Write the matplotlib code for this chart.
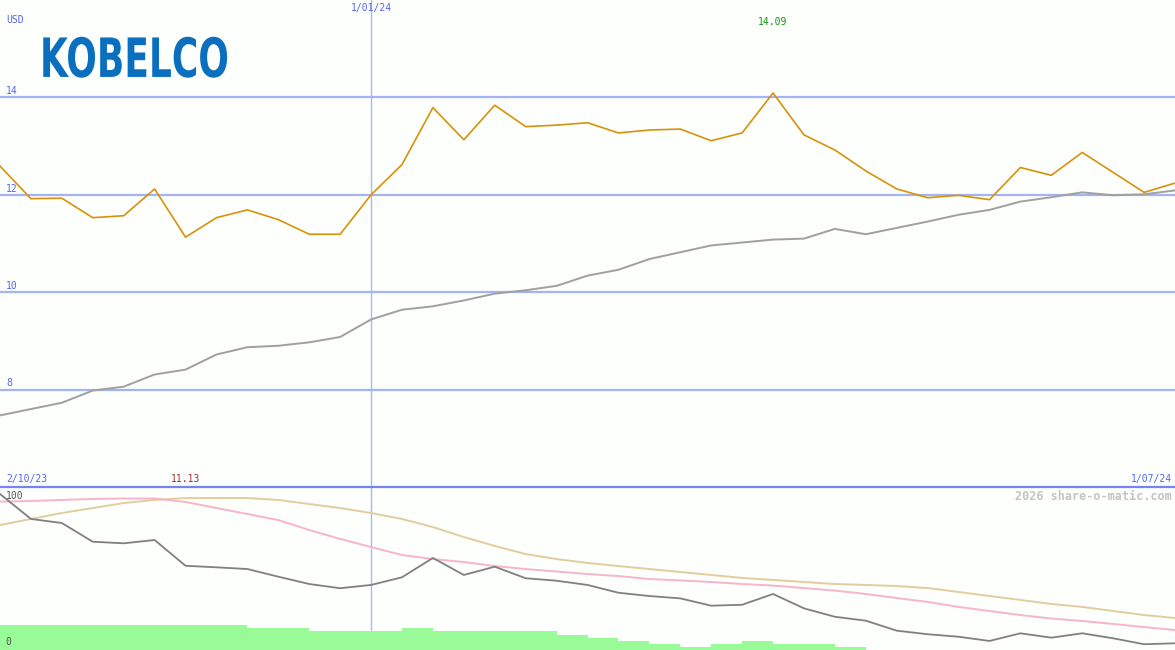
import numpy as np
import pandas as pd
import matplotlib
matplotlib.use('Agg')
import matplotlib.pyplot as plt
from matplotlib import patheffects
from matplotlib.transforms import Affine2D

# weekly closes, 9 Oct 2023 .. 1 Jul 2024
weeks = pd.date_range('2023-10-09', periods=39, freq='7D')
price = [12.59, 11.92, 11.93, 11.53, 11.57, 12.12, 11.13, 11.53, 11.69, 11.49,
         11.19, 11.19, 12.00, 12.62, 13.79, 13.13, 13.84, 13.40, 13.43, 13.48,
         13.27, 13.33, 13.35, 13.11, 13.27, 14.09, 13.23, 12.92, 12.49, 12.12,
         11.94, 11.99, 11.90, 12.56, 12.40, 12.87, 12.46, 12.05, 12.24]
price_avg = [7.47, 7.60, 7.73, 7.98, 8.06, 8.31, 8.41, 8.72, 8.87, 8.90,
             8.97, 9.08, 9.44, 9.64, 9.71, 9.83, 9.97, 10.04, 10.13, 10.34,
             10.46, 10.68, 10.82, 10.96, 11.02, 11.08, 11.10, 11.30, 11.19, 11.32,
             11.45, 11.59, 11.69, 11.86, 11.95, 12.05, 11.99, 12.01, 12.09]

# lower panel indicators (0-100 scale)
pink = [95.1, 95.5, 96.2, 96.8, 97.1, 97.1, 94.9, 91.0, 87.2, 83.3,
        76.9, 71.2, 66.0, 60.9, 58.3, 56.4, 53.8, 51.9, 50.3, 48.7,
        47.4, 45.5, 44.6, 43.6, 42.3, 41.3, 39.7, 38.1, 35.9, 33.3,
        30.8, 27.6, 25.0, 22.4, 20.2, 18.6, 16.7, 14.7, 12.8]
tan = [80.1, 84.0, 87.8, 91.0, 94.2, 96.2, 97.4, 97.4, 97.4, 96.2,
       93.6, 91.0, 87.8, 84.0, 78.8, 72.4, 66.7, 61.5, 58.3, 55.8,
       53.8, 51.9, 50.0, 48.1, 46.2, 44.9, 43.6, 42.3, 41.7, 41.0,
       39.7, 37.2, 34.6, 32.1, 29.5, 27.6, 25.0, 22.4, 20.5]
rel = [100.0, 84.0, 81.4, 69.4, 68.4, 70.5, 54.0, 53.0, 51.9, 47.0,
       42.3, 39.6, 41.7, 46.6, 59.0, 48.1, 53.4, 46.0, 44.4, 41.7,
       36.7, 34.6, 33.1, 28.4, 29.0, 35.9, 26.7, 21.3, 18.8, 12.4,
       10.1, 8.5, 5.8, 10.7, 7.9, 10.7, 7.5, 3.7, 4.3]
volume = [16.0, 16.0, 16.0, 16.0, 16.0, 16.0, 16.0, 16.0, 14.1, 14.1,
          12.2, 12.2, 12.2, 14.1, 12.2, 12.2, 12.2, 12.2, 9.6, 7.7,
          5.8, 3.8, 1.9, 3.8, 5.8, 3.8, 3.8, 1.9, 0, 0,
          0, 0, 0, 0, 0, 0, 0, 0, 0]

price_levels = [8, 10, 12, 14]

bg = '#FCFFFC'
blue_txt = '#5566EE'
grid = '#A4B4F2'
mono = 'DejaVu Sans Mono'


class Squeeze(patheffects.AbstractPathEffect):
    # narrows the glyphs horizontally, the logo font is very condensed
    def __init__(self, sx):
        super().__init__()
        self.sx = sx

    def draw_path(self, renderer, gc, tpath, affine, rgbFace=None):
        renderer.draw_path(gc, tpath, Affine2D().scale(self.sx, 1) + affine, rgbFace)


fig = plt.figure(figsize=(11.75, 6.5), dpi=100)
fig.patch.set_facecolor(bg)
top = fig.add_axes([0, 0.2508, 1, 0.7492])
bot = fig.add_axes([0, 0, 1, 0.2508])

for ax in (top, bot):
    ax.set_facecolor(bg)
    ax.set_xlim(weeks[0], weeks[-1])
    ax.set_xticks([])
    ax.set_yticks([])
    for s in ax.spines.values():
        s.set_visible(False)
    ax.axvline(pd.Timestamp('2024-01-01'), color='#A8B8F8', lw=1, zorder=1)

# price panel
top.set_ylim(6, 16)
for v in price_levels:
    top.axhline(v, color=grid, lw=1.6, zorder=1)
    top.annotate(str(v), xy=(0, v), xycoords=('axes fraction', 'data'),
                 xytext=(4.3, 0.8), textcoords='offset points',
                 fontsize=7, family=mono, color=blue_txt, va='bottom')
top.plot(weeks, price_avg, color='#A0A0A0', lw=1.4, zorder=2)
top.plot(weeks, price, color='#D8920A', lw=1.2, zorder=3)

imax = int(np.argmax(price))
imin = int(np.argmin(price))
top.text(weeks[imax], 0.955, f'{price[imax]:.2f}', transform=top.get_xaxis_transform(),
         fontsize=7, family=mono, color='#119911', ha='center', va='center')
top.text(weeks[imin], 0.0165, f'{price[imin]:.2f}', transform=top.get_xaxis_transform(),
         fontsize=7, family=mono, color='#993333', ha='center', va='center')

top.text(0.005, 0.959, 'USD', transform=top.transAxes, fontsize=7, family=mono,
         color=blue_txt, va='center')
top.text(pd.Timestamp('2024-01-01'), 0.984, '1/01/24', transform=top.get_xaxis_transform(),
         fontsize=7, family=mono, color=blue_txt, ha='center', va='center')
top.text(0.005, 0.0165, '2/10/23', transform=top.transAxes, fontsize=7, family=mono,
         color=blue_txt, va='center')
top.text(0.9975, 0.0165, '1/07/24', transform=top.transAxes, fontsize=7, family=mono,
         color=blue_txt, ha='right', va='center')
top.text(0.034, 0.842, 'KOBELCO', transform=top.transAxes, fontsize=39,
         family='DejaVu Sans', weight='bold', color='#0A6FBF', va='baseline',
         path_effects=[Squeeze(0.665)])

# lower panel
bot.set_ylim(0, 104.5)
bot.spines['top'].set_visible(True)
bot.spines['top'].set_color('#7486EE')
bot.spines['top'].set_linewidth(1.6)
bot.plot(weeks, tan, color='#E2CDA0', lw=1.4, zorder=2)
bot.plot(weeks, pink, color='#F8B4CA', lw=1.4, zorder=2)
bot.plot(weeks, rel, color='#808080', lw=1.3, zorder=3)
bot.bar(weeks, volume, width=7, align='edge', color='#98FB98', zorder=4)

bot.text(0.005, 98.7, '100', transform=bot.get_yaxis_transform(), fontsize=7,
         family=mono, color='#555555', va='center')
bot.text(0.005, 5.1, '0', transform=bot.get_yaxis_transform(), fontsize=7,
         family=mono, color='#555555', va='center', zorder=5)
bot.text(0.9975, 98.7, '2026 share-o-matic.com', transform=bot.get_yaxis_transform(),
         fontsize=8.5, family=mono, weight='bold', color='#C4C4C4', ha='right', va='center')

fig.savefig('out.png', dpi=100, facecolor=bg)
